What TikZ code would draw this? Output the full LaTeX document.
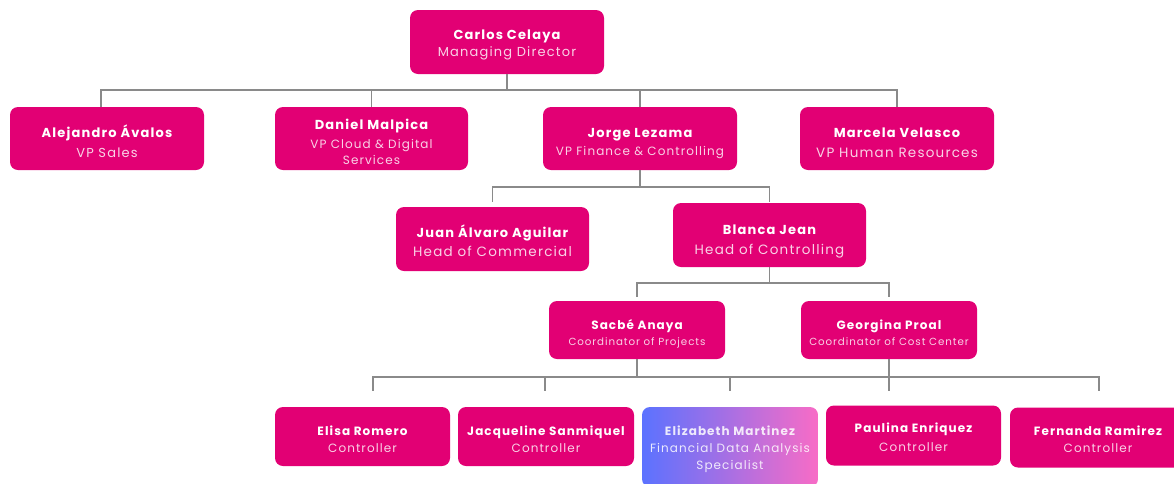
\documentclass[tikz,border=0pt]{standalone}
\usepackage{fontspec}
\setmainfont{Poppins}[LetterSpace=9]
\definecolor{mag}{HTML}{E20074}
\definecolor{roletxt}{HTML}{F9D2E6}
\definecolor{conn}{HTML}{8A8A8A}
\definecolor{gleft}{HTML}{5B72FF}
\definecolor{gright}{HTML}{F86CC6}
\begin{document}
\begin{tikzpicture}[x=1pt,y=-1pt,
  box/.style={fill=mag, rounded corners=8pt, inner sep=0pt},
  nm/.style={anchor=base, inner sep=0pt, text=white, font=\fontsize{#1}{#1}\selectfont\bfseries},
  rl/.style={anchor=base, inner sep=0pt, text=roletxt, font=\fontsize{#1}{#1}\selectfont},
  gt/.style={anchor=base, inner sep=0pt, text=white, text opacity=0.85, font=\fontsize{#1}{#1}\selectfont},
  gtb/.style={gt=#1, font=\fontsize{#1}{#1}\selectfont\bfseries},
  conn/.style={draw=conn, line width=1.3pt}]
\useasboundingbox (0,0) rectangle (1174,483);
\clip (0,0) rectangle (1174,483);
% ---------- boxes
\node[box, minimum width=194pt, minimum height=64pt] (carlos) at (507,42) {};
\node[box, minimum width=194pt, minimum height=63pt] (alejandro) at (107,138.5) {};
\node[box, minimum width=193pt, minimum height=63pt] (daniel) at (371.5,138.5) {};
\node[box, minimum width=194pt, minimum height=63pt] (jorge) at (640,138.5) {};
\node[box, minimum width=194pt, minimum height=63pt] (marcela) at (897,138.5) {};
\node[box, minimum width=193pt, minimum height=64pt] (juan) at (492.5,239) {};
\node[box, minimum width=193pt, minimum height=64pt] (blanca) at (769.5,235) {};
\node[box, minimum width=176pt, minimum height=58pt] (sacbe) at (637,330) {};
\node[box, minimum width=176pt, minimum height=58pt] (georgina) at (889,330) {};
\node[box, minimum width=175pt, minimum height=59pt] (elisa) at (362.5,436.5) {};
\node[box, minimum width=176pt, minimum height=59pt] (jacq) at (546,436.5) {};
\node[box, fill=none, left color=gleft, right color=gright, minimum width=176pt, minimum height=80pt] (eliz) at (730,447) {};
\node[box, minimum width=175pt, minimum height=60pt] (paulina) at (913.5,435.5) {};
\node[box, minimum width=176pt, minimum height=60pt] (fernanda) at (1098,437.5) {};
% ---------- texts
\node[nm=13] (carlos-n) at (507,39.5) {Carlos Celaya};
\node[rl=13] (carlos-r) at (507,56.5) {Managing Director};
\node[nm=13] (alejandro-n) at (107,137.5) {Alejandro Ávalos};
\node[rl=13] (alejandro-r) at (107,157) {VP Sales};
\node[nm=13] (daniel-n) at (371.5,129.5) {Daniel Malpica};
\node[rl=12] (daniel-r1) at (371.5,148) {VP Cloud \& Digital};
\node[rl=12] (daniel-r2) at (371.5,164.5) {Services};
\node[nm=13] (jorge-n) at (640,137.5) {Jorge Lezama};
\node[rl=12] (jorge-r) at (640,155) {VP Finance \& Controlling};
\node[nm=13] (marcela-n) at (897,137.5) {Marcela Velasco};
\node[rl=13.5] (marcela-r) at (897,157) {VP Human Resources};
\node[nm=13] (juan-n) at (492.5,237) {Juan Álvaro Aguilar};
\node[rl=13.5] (juan-r) at (492.5,256) {Head of Commercial};
\node[nm=13] (blanca-n) at (769.5,234.5) {Blanca Jean};
\node[rl=13.5] (blanca-r) at (769.5,254) {Head of Controlling};
\node[nm=12] (sacbe-n) at (637,329) {Sacbé Anaya};
\node[rl=10.3] (sacbe-r) at (637,345.5) {Coordinator of Projects};
\node[nm=12] (georgina-n) at (889,329) {Georgina Proal};
\node[rl=10.3] (georgina-r) at (889,345.5) {Coordinator of Cost Center};
\node[nm=12] (elisa-n) at (362.5,435) {Elisa Romero};
\node[rl=12] (elisa-r) at (362.5,452.5) {Controller};
\node[nm=12] (jacq-n) at (546,435) {Jacqueline Sanmiquel};
\node[rl=12] (jacq-r) at (546,452.5) {Controller};
\node[gtb=12] (eliz-n) at (730,435.5) {Elizabeth Martinez};
\node[gt=12] (eliz-r1) at (730,452.5) {Financial Data Analysis};
\node[gt=12] (eliz-r2) at (730,469.5) {Specialist};
\node[nm=12] (paulina-n) at (913.5,432.5) {Paulina Enriquez};
\node[rl=12] (paulina-r) at (913.5,451.5) {Controller};
\node[nm=12] (fernanda-n) at (1098,435.5) {Fernanda Ramirez};
\node[rl=12] (fernanda-r) at (1098,452.5) {Controller};
% ---------- connectors level 0 -> 1
\coordinate (b1) at (507,90);
\coordinate (aj) at (101,107);
\draw[conn] (carlos.south) -- (b1);
\draw[conn] (b1) -| (aj);
\draw[conn] (b1) -| (daniel.north);
\draw[conn] (b1) -| (jorge.north);
\draw[conn] (b1) -| (marcela.north);
% level 1 -> 2
\coordinate (b2) at (640,187);
\coordinate (jd) at (492.5,202);
\coordinate (bd) at (769.5,202);
\draw[conn] (jorge.south) -- (b2);
\draw[conn] (b2) -| (jd);
\draw[conn] (b2) -| (bd);
% level 2 -> 3
\coordinate (b3) at (769.5,283);
\coordinate (sd) at (637,297);
\coordinate (gd) at (889,297);
\draw[conn] (blanca.south) -- (b3);
\draw[conn] (b3) -| (sd);
\draw[conn] (b3) -| (gd);
% level 3 -> 4
\coordinate (b4) at (637,377);
\coordinate (ed) at (373,391);
\coordinate (qd) at (545,391);
\coordinate (zd) at (730,391);
\coordinate (pd) at (889,391);
\coordinate (fd) at (1099,391);
\draw[conn] (sacbe.south) -- (b4);
\draw[conn] (b4) -| (ed);
\draw[conn] (b4) -| (fd);
\draw[conn] (qd |- b4) -- (qd);
\draw[conn] (zd |- b4) -- (zd);
\draw[conn] (georgina.south) -- (pd);
\end{tikzpicture}
\end{document}
